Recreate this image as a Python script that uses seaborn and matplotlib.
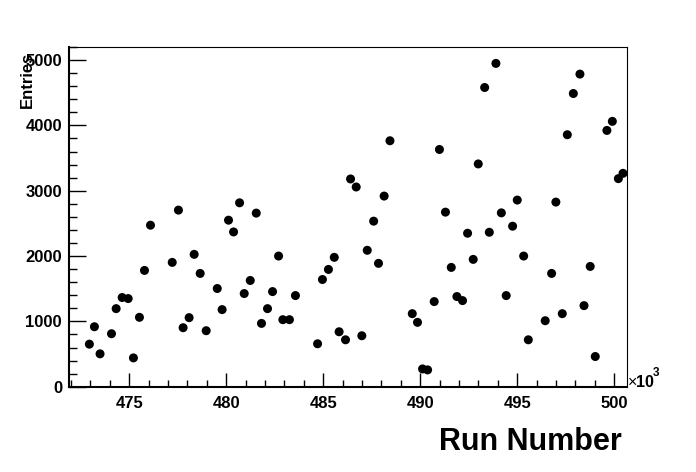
import pandas as pd
import matplotlib
matplotlib.use('Agg')
import matplotlib.pyplot as plt
import seaborn as sns
from matplotlib.ticker import MultipleLocator

# run numbers in units of 10^3
run_number = [472.95, 473.21, 473.50, 474.09, 474.33, 474.64, 474.95, 475.22, 475.53, 475.79,
              476.10, 477.22, 477.54, 477.78, 478.09, 478.35, 478.66, 478.97, 479.54, 479.79,
              480.12, 480.38, 480.69, 480.93, 481.24, 481.55, 481.82, 482.13, 482.39, 482.70,
              482.92, 483.26, 483.57, 484.71, 484.96, 485.27, 485.57, 485.82, 486.15, 486.41,
              486.70, 486.99, 487.27, 487.60, 487.85, 488.14, 488.44, 489.59, 489.86, 490.12,
              490.38, 490.72, 490.99, 491.30, 491.60, 491.89, 492.18, 492.44, 492.73, 492.99,
              493.32, 493.56, 493.90, 494.18, 494.43, 494.76, 495.00, 495.33, 495.57, 496.44,
              496.77, 496.99, 497.32, 497.58, 497.89, 498.23, 498.44, 498.76, 499.02, 499.62,
              499.90, 500.21, 500.45]
entries = [651, 918, 503, 811, 1195, 1365, 1349, 441, 1062, 1780,
           2472, 1903, 2703, 903, 1057, 2026, 1734, 857, 1503, 1180,
           2549, 2369, 2815, 1426, 1626, 2657, 969, 1195, 1456, 2000,
           1026, 1026, 1395, 657, 1641, 1795, 1980, 841, 718, 3180,
           3057, 780, 2088, 2534, 1888, 2918, 3765, 1118, 985, 272,
           257, 1303, 3631, 2672, 1826, 1380, 1318, 2349, 1949, 3410,
           4580, 2364, 4949, 2661, 1395, 2457, 2857, 2000, 718, 1010,
           1734, 2826, 1118, 3857, 4488, 4785, 1241, 1841, 462, 3923,
           4062, 3185, 3266]

df = pd.DataFrame({'run': run_number, 'entries': entries})

sns.set_style('white')
plt.rcParams['font.family'] = ['Liberation Sans', 'DejaVu Sans']
plt.rcParams['text.color'] = 'black'
plt.rcParams['xtick.color'] = 'black'
plt.rcParams['ytick.color'] = 'black'

W, H = 696, 472
fig = plt.figure(figsize=(W / 100, H / 100), dpi=100)
ax = fig.add_axes([69 / W, 1 - 386.7 / H, (626.7 - 69) / W, (386.7 - 47) / H])

sns.scatterplot(data=df, x='run', y='entries', ax=ax, color='black',
                s=42, edgecolor='none', linewidth=0, legend=False)

ax.set_xlim(471.9, 500.64)
ax.set_ylim(0, 5200)
ax.set_xlabel('')
ax.set_ylabel('')

ax.xaxis.set_major_locator(MultipleLocator(5))
ax.xaxis.set_minor_locator(MultipleLocator(1))
ax.yaxis.set_major_locator(MultipleLocator(1000))
ax.yaxis.set_minor_locator(MultipleLocator(200))

ax.tick_params(axis='x', which='major', direction='in', length=10, width=1, pad=7)
ax.tick_params(axis='x', which='minor', direction='in', length=5, width=1)
ax.tick_params(axis='y', which='major', direction='in', length=12, width=1, pad=5)
ax.tick_params(axis='y', which='minor', direction='in', length=6, width=1)
ax.tick_params(which='both', bottom=True, left=True, top=False, right=False,
               colors='black')
for lab in ax.get_xticklabels() + ax.get_yticklabels():
    lab.set_fontsize(12)
    lab.set_fontweight('bold')
    lab.set_color('black')

for s in ['top', 'right']:
    ax.spines[s].set_linewidth(0.8)
for s in ['left', 'bottom']:
    ax.spines[s].set_linewidth(1.5)
for s in ax.spines.values():
    s.set_color('black')

fig.text(622 / W, 1 - 441.7 / H, 'Run Number', ha='right', va='center',
         fontsize=22, fontweight='bold', color='black')
fig.text(27.5 / W, 1 - 52 / H, 'Entries', rotation=90, ha='center', va='top',
         fontsize=12, fontweight='bold', color='black')
fig.text(628 / W, 1 - 387 / H, '×', ha='left', va='baseline',
         fontsize=11.5, color='black')
fig.text(636 / W, 1 - 387 / H, '10', ha='left', va='baseline',
         fontsize=11.5, fontweight='bold', color='black')
fig.text(652.5 / W, 1 - 376 / H, '3', ha='left', va='baseline',
         fontsize=8.5, fontweight='bold', color='black')

fig.savefig('out.png', dpi=100)
